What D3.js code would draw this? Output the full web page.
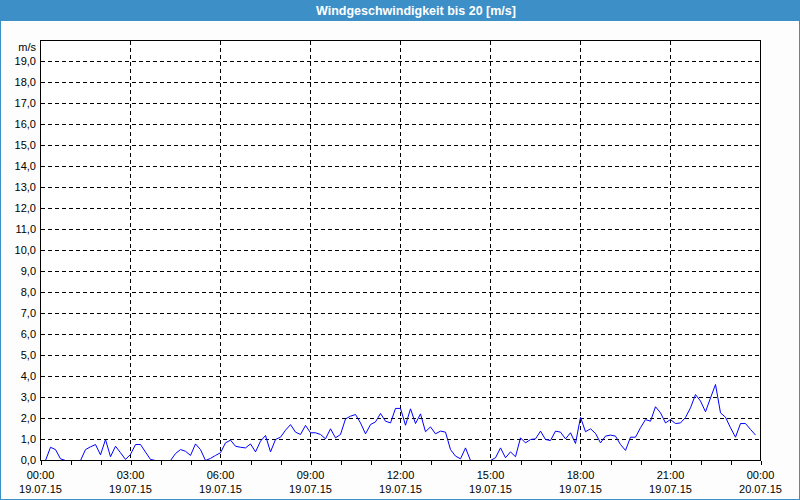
<meta charset="utf-8">
<head>
<style>
  body { margin: 0; background: #fff; }
  svg { display: block; font-family: "Liberation Sans", Arial, sans-serif; }
</style>
</head>
<body>
<div id="chartId"></div>
</body>
<script src="https://d3js.org/d3.v7.min.js"></script>
<script>

// Data: wind speed [m/s], one sample every 10 minutes, 19.07.15 00:00 - 23:50
var speed = [
  0, 0, 0.63, 0.52, 0.08, 0, 0, 0, 0, 0.52,
  0.65, 0.76, 0.27, 1.0, 0.18, 0.68, 0.37, 0.05, 0.29, 0.76,
  0.76, 0.40, 0.05, 0, 0, 0, 0, 0.33, 0.52, 0.44,
  0.24, 0.79, 0.52, 0, 0.1, 0.24, 0.37, 0.84, 0.97, 0.68,
  0.63, 0.60, 0.79, 0.41, 0.92, 1.19, 0.41, 1.0, 1.11, 1.44,
  1.71, 1.35, 1.24, 1.67, 1.32, 1.32, 1.24, 1.03, 1.51, 1.08,
  1.24, 1.98, 2.11, 2.19, 1.79, 1.27, 1.71, 1.84, 2.24, 1.87,
  1.79, 2.48, 2.48, 1.68, 2.46, 1.76, 2.22, 1.37, 1.60, 1.27,
  1.40, 1.35, 0.52, 0.21, 0.08, 0.60, 0, 0, 0, 0,
  0, 0.13, 0.60, 0.13, 0.41, 0.18, 1.08, 0.84, 1.0, 1.03,
  1.40, 1.0, 0.95, 1.40, 1.35, 1.03, 1.32, 0.81, 2.06, 1.37,
  1.51, 1.29, 0.84, 1.16, 1.21, 1.16, 0.76, 0.48, 1.11, 1.11,
  1.56, 1.95, 1.87, 2.56, 2.27, 1.79, 1.95, 1.76, 1.79, 2.05,
  2.51, 3.14, 2.83, 2.32, 2.98, 3.62, 2.27, 2.06, 1.56, 1.11,
  1.76, 1.76, 1.48, 1.21
];
var stepHours = 10 / 60;

var labelHours = [0, 3, 6, 9, 12, 15, 18, 21, 24];
var timeLabels = ["00:00", "03:00", "06:00", "09:00", "12:00", "15:00", "18:00", "21:00", "00:00"];
var dateLabels = ["19.07.15", "19.07.15", "19.07.15", "19.07.15", "19.07.15", "19.07.15", "19.07.15", "19.07.15", "20.07.15"];
var yTicks = d3.range(0, 20);

var title = "Windgeschwindigkeit bis 20 [m/s]";
var unit = "m/s";

var width = 800, height = 500;
var blue = "#3c8fc7";

var svg = d3.select("#chartId").append("svg")
  .attr("width", width)
  .attr("height", height);

svg.append("rect")
  .attr("x", 0).attr("y", 0)
  .attr("width", width).attr("height", height)
  .attr("fill", "#fcfdfc");

// title bar
svg.append("rect")
  .attr("x", 0).attr("y", 0)
  .attr("width", width).attr("height", 21)
  .attr("fill", blue);

svg.append("text")
  .attr("x", 416).attr("y", 15)
  .attr("text-anchor", "middle")
  .attr("fill", "#fff")
  .attr("font-weight", "bold")
  .attr("font-size", "12.5px")
  .text(title);

// outer frame
svg.append("rect")
  .attr("x", 0.5).attr("y", 0.5)
  .attr("width", width - 1).attr("height", height - 1)
  .attr("fill", "none")
  .attr("stroke", blue);

// scales
var x = d3.scaleLinear().domain([0, 24]).range([40.5, 760.5]);
var y = d3.scaleLinear().domain([0, 20]).range([460.5, 40.5]);

var de = d3.formatLocale({ decimal: ",", thousands: ".", grouping: [3], currency: ["", " €"] });
var fmt = de.format(".1f");

// plot background
svg.append("rect")
  .attr("x", x(0)).attr("y", y(20))
  .attr("width", x(24) - x(0)).attr("height", y(0) - y(20))
  .attr("fill", "#fff");

// horizontal grid
svg.append("g")
  .selectAll("line")
  .data(yTicks.slice(1))
  .enter()
  .append("line")
  .attr("x1", x(0)).attr("x2", x(24))
  .attr("y1", function(d) { return y(d); })
  .attr("y2", function(d) { return y(d); })
  .attr("stroke", "#000")
  .attr("stroke-dasharray", "4,3")
  .attr("shape-rendering", "crispEdges");

// vertical grid
svg.append("g")
  .selectAll("line")
  .data(labelHours.slice(1, -1))
  .enter()
  .append("line")
  .attr("x1", function(d) { return x(d); })
  .attr("x2", function(d) { return x(d); })
  .attr("y1", y(20)).attr("y2", y(0))
  .attr("stroke", "#000")
  .attr("stroke-dasharray", "4,3")
  .attr("shape-rendering", "crispEdges");

// y labels
svg.append("g")
  .selectAll("text")
  .data(yTicks)
  .enter()
  .append("text")
  .attr("x", 36)
  .attr("y", function(d) { return y(d); })
  .attr("dy", "0.35em")
  .attr("text-anchor", "end")
  .attr("font-size", "11px")
  .attr("fill", "#000")
  .text(function(d) { return fmt(d); });

svg.append("text")
  .attr("x", 36).attr("y", 47)
  .attr("dy", "0.35em")
  .attr("text-anchor", "end")
  .attr("font-size", "11px")
  .text(unit);

// x axis ticks (hourly)
var xAxis = d3.axisBottom(x)
  .tickValues(d3.range(0, 25))
  .tickSize(4)
  .tickFormat("");

svg.append("g")
  .attr("transform", "translate(0," + y(0) + ")")
  .call(xAxis)
  .call(function(g) { g.select(".domain").remove(); })
  .selectAll("line")
  .attr("shape-rendering", "crispEdges");

// x labels
var xl = svg.append("g")
  .selectAll("text")
  .data(labelHours)
  .enter()
  .append("text")
  .attr("x", function(d) { return x(d); })
  .attr("text-anchor", "middle")
  .attr("font-size", "11px");

xl.append("tspan")
  .attr("x", function(d) { return x(d); })
  .attr("y", 479)
  .text(function(d, i) { return timeLabels[i]; });

xl.append("tspan")
  .attr("x", function(d) { return x(d); })
  .attr("y", 493)
  .text(function(d, i) { return dateLabels[i]; });

// data line
var line = d3.line()
  .x(function(d, i) { return x(i * stepHours); })
  .y(function(d) { return y(d); });

svg.append("path")
  .datum(speed)
  .attr("d", line)
  .attr("fill", "none")
  .attr("stroke", "#0000ff")
  .attr("stroke-width", 1);

// plot frame
svg.append("rect")
  .attr("x", x(0)).attr("y", y(20))
  .attr("width", x(24) - x(0)).attr("height", y(0) - y(20))
  .attr("fill", "none")
  .attr("stroke", "#000")
  .attr("shape-rendering", "crispEdges");

</script>
